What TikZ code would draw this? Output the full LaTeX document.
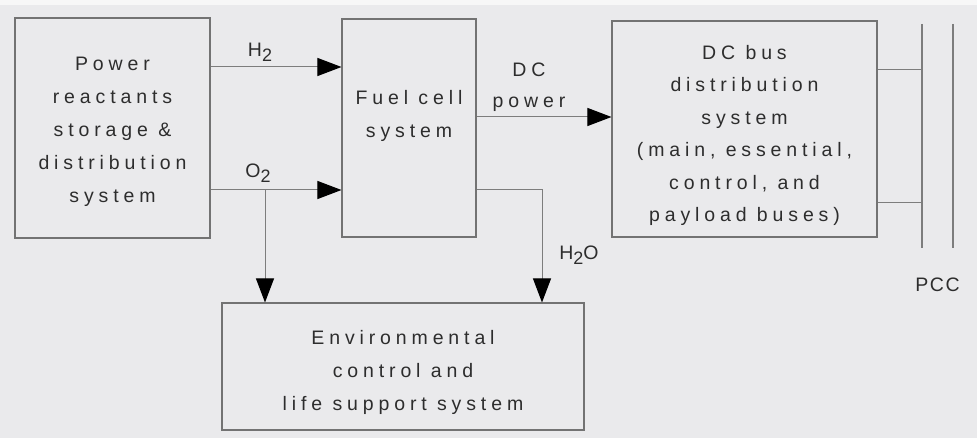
\documentclass[tikz,border=0pt]{standalone}
\usepackage{fontspec}
\setmainfont{Liberation Sans}
\newfontfamily\spaced[LetterSpace=25]{Liberation Sans}
\newfontfamily\lspaced[LetterSpace=8]{Liberation Sans}
\usetikzlibrary{arrows.meta,calc}
\definecolor{bgc}{RGB}{234,234,236}
\definecolor{linec}{RGB}{125,125,125}
\definecolor{boxc}{RGB}{115,115,115}
\definecolor{txtc}{RGB}{45,45,45}
\newcommand{\sub}[1]{\raisebox{-0.45ex}{\fontsize{18}{18}\selectfont #1}}
\newcommand{\topgap}[1]{\rule{0pt}{#1}}
\tikzset{
  box/.style={draw=boxc, line width=1.1pt, rectangle, align=center, text=txtc,
    font=\spaced\fontsize{19.5}{33}\selectfont, inner sep=0pt},
  lbl/.style={text=txtc, font=\spaced\fontsize{19.5}{31}\selectfont, align=center, inner sep=0pt},
  conn/.style={draw=linec, line width=1pt},
  arr/.style={conn, -{Triangle[length=24pt,width=18pt,color=black,fill=black]}},
}
\begin{document}
\begin{tikzpicture}[x=1pt,y=-1pt]
\fill[bgc] (0,0) rectangle (977,438);
\fill[white!60!bgc] (0,0) rectangle (977,5);
\useasboundingbox (0,0) rectangle (977,438);

\node[box, minimum width=195pt, minimum height=220pt] (A) at (112.5,128)
  {\topgap{22pt}Power\\reactants\\storage \&\\distribution\\system};
\node[box, minimum width=134pt, minimum height=218pt] (B) at (409,128)
  {Fuel cell\\system\\[-4pt]\mbox{}};
\node[box, minimum width=265pt, minimum height=216pt, font=\spaced\fontsize{19.5}{32.4}\selectfont] (C) at (744.5,129)
  {\topgap{27pt}DC bus\\distribution\\system\\(main, essential,\\control, and\\payload buses)};
\node[box, minimum width=362pt, minimum height=127pt] (D) at (403,366.5)
  {\topgap{26pt}Environmental\\control and\\life support system};

% labels
\node[lbl] (lh2) at (260,52) {H\sub{2}};
\node[lbl] (lo2) at (258,173) {O\sub{2}};
\node[lbl] (ldc) at (529,87) {DC\\power};
\node[lbl] (lh2o) at (579,255) {H\sub{2}O};
\node[lbl, font=\lspaced\fontsize{19.5}{20}\selectfont] (lpcc) at (937.5,285) {PCC};

% connectors
\coordinate (h2s) at (A.east |- 0,67);
\draw[arr] (h2s) -- (h2s -| B.west);
\coordinate (o2s) at (A.east |- 0,190);
\draw[arr] (o2s) -- (o2s -| B.west);
\coordinate (o2b) at (265,190);
\draw[arr] (o2b) -- (o2b |- D.north);
\coordinate (dcs) at (B.east |- 0,117);
\draw[arr] (dcs) -- (dcs -| C.west);
\coordinate (h2os) at (B.east |- 0,190);
\coordinate (h2oc) at (542,190);
\draw[arr] (h2os) -- (h2oc) -- (h2oc |- D.north);

% PCC bus
\coordinate (p1t) at (922,24);
\coordinate (p1b) at (922,248);
\coordinate (p2t) at (953,24);
\coordinate (p2b) at (953,248);
\draw[conn, line width=1.4pt] (p1t) -- (p1b);
\draw[conn, line width=1.4pt] (p2t) -- (p2b);
\coordinate (c1) at (C.east |- 0,70);
\coordinate (c2) at (C.east |- 0,203);
\draw[conn] (c1) -- (c1 -| p1t);
\draw[conn] (c2) -- (c2 -| p1t);
\end{tikzpicture}
\end{document}
